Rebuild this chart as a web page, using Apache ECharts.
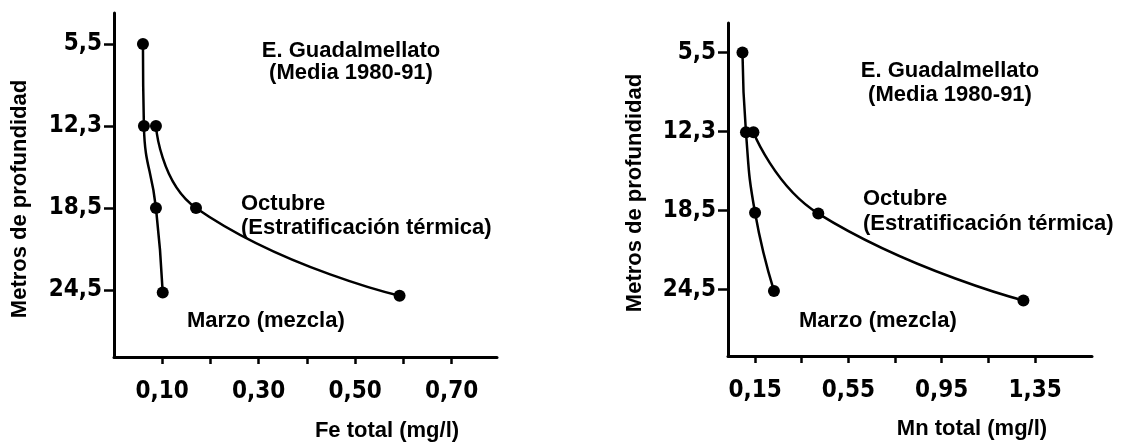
<!DOCTYPE html>
<html>
<head>
<meta charset="utf-8">
<script src="https://cdn.jsdelivr.net/npm/echarts@6/dist/echarts.min.js"></script>
<style>
html,body{margin:0;padding:0;background:#fff;}
#chart{width:1122px;height:445px;}
</style>
</head>
<body>
<div id="chart"></div>
<script>
// ---- data ----
const depthLabels = ['5,5', '12,3', '18,5', '24,5'];
const depthTickPos = [0, 1, 2, 3];

const feMarzo = [0.060, 0.062, 0.087, 0.101];
const feMarzoPos = [0, 1, 2, 3.03];
const feOctubre = [0.087, 0.170, 0.592];
const feOctubrePos = [1, 2, 3.07];

const mnMarzo = [0.096, 0.111, 0.150, 0.231];
const mnMarzoPos = [0, 1.01, 2.03, 3.02];
const mnOctubre = [0.143, 0.421, 1.30];
const mnOctubrePos = [1.01, 2.04, 3.14];

const feTicks = [0.1, 0.2, 0.3, 0.4, 0.5, 0.6, 0.7];
const feTickLabels = [0.1, 0.3, 0.5, 0.7];
const mnTicks = [0.15, 0.35, 0.55, 0.75, 0.95, 1.15, 1.35];
const mnTickLabels = [0.15, 0.55, 0.95, 1.35];

const yTitle = 'Metros de profundidad';
const feTitle = 'Fe total (mg/l)';
const mnTitle = 'Mn total (mg/l)';
const headLines = ['E. Guadalmellato', '(Media 1980-91)'];
const octLines = ['Octubre', '(Estratificación térmica)'];
const marzoLabel = 'Marzo (mezcla)';

// ---- helpers ----
const pairs = (xs, ys) => xs.map((v, i) => [v, ys[i]]);
const fmtX = v => Number(v).toFixed(2).replace('.', ',');
const fmtY = v => depthLabels[Math.round(v)];
const tickFont = {fontFamily: "'Liberation Sans Narrow', 'DejaVu Sans Condensed', sans-serif", fontWeight: 'bold', fontSize: 24, color: '#000'};
const textFont = "bold 22px 'Liberation Sans', Arial, sans-serif";

function xAxisCfg(grid, min, max, ticks, labels) {
  return {
    type: 'value', gridIndex: grid, min: min, max: max,
    axisLine: {show: true, onZero: false, lineStyle: {color: '#000', width: 3}},
    axisTick: {show: true, length: 7, customValues: ticks, lineStyle: {color: '#000', width: 2.5}},
    axisLabel: Object.assign({show: true, margin: 23, customValues: labels, formatter: fmtX}, tickFont),
    splitLine: {show: false}
  };
}
function yAxisCfg(grid, min, max) {
  return {
    type: 'value', gridIndex: grid, inverse: true, min: min, max: max,
    axisLine: {show: true, onZero: false, lineStyle: {color: '#000', width: 3}},
    axisTick: {show: true, length: 10, customValues: depthTickPos, lineStyle: {color: '#000', width: 2.5}},
    axisLabel: Object.assign({show: true, margin: 12, customValues: depthTickPos, formatter: fmtY}, tickFont),
    splitLine: {show: false}
  };
}
function lineSeries(x, y, data) {
  return {
    type: 'line', xAxisIndex: x, yAxisIndex: y, data: data,
    smooth: 0.5, symbol: 'circle', symbolSize: 12,
    itemStyle: {color: '#000'}, lineStyle: {color: '#000', width: 2.5},
    animation: false, silent: true
  };
}
function txt(text, x, y, align, rot) {
  return {
    type: 'text', x: x, y: y, rotation: rot || 0,
    style: {text: text, font: textFont, fill: '#000',
      align: align, textAlign: align, verticalAlign: 'middle', textVerticalAlign: 'middle'}
  };
}

const chart = echarts.init(document.getElementById('chart'), null, {renderer: 'canvas'});
chart.setOption({
  backgroundColor: '#fff',
  animation: false,
  grid: [
    {left: 114, top: 13, width: 383, height: 344},
    {left: 728, top: 23, width: 364, height: 333}
  ],
  xAxis: [
    xAxisCfg(0, 0, 0.794, feTicks, feTickLabels),
    xAxisCfg(1, 0.034, 1.594, mnTicks, mnTickLabels)
  ],
  yAxis: [
    yAxisCfg(0, -0.378, 3.817),
    yAxisCfg(1, -0.375, 3.844)
  ],
  series: [
    lineSeries(0, 0, pairs(feMarzo, feMarzoPos)),
    lineSeries(0, 0, pairs(feOctubre, feOctubrePos)),
    lineSeries(1, 1, pairs(mnMarzo, mnMarzoPos)),
    lineSeries(1, 1, pairs(mnOctubre, mnOctubrePos))
  ],
  graphic: [
    txt(yTitle, 20, 199, 'center', Math.PI / 2),
    txt(yTitle, 635, 193, 'center', Math.PI / 2),
    txt(headLines[0], 351, 51, 'center'),
    txt(headLines[1], 351, 73, 'center'),
    txt(headLines[0], 950, 71, 'center'),
    txt(headLines[1], 950, 95, 'center'),
    txt(octLines[0], 241, 204, 'left'),
    txt(octLines[1], 241, 228, 'left'),
    txt(octLines[0], 863, 199, 'left'),
    txt(octLines[1], 863, 224, 'left'),
    txt(marzoLabel, 187, 321, 'left'),
    txt(marzoLabel, 799, 321, 'left'),
    txt(feTitle, 387, 431, 'center'),
    txt(mnTitle, 972, 429, 'center')
  ]
});
</script>
</body>
</html>
